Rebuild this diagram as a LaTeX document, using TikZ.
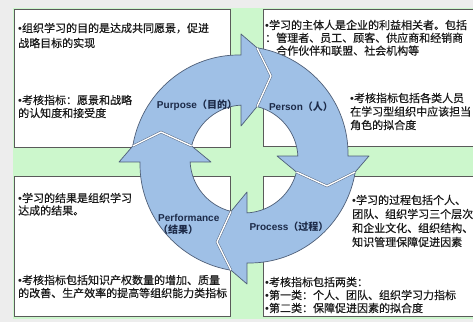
\documentclass[tikz,border=0pt]{standalone}
\usepackage{fontspec}
\setmainfont{Noto Sans CJK SC}
\newfontfamily\bodyfont{Noto Sans CJK SC}[FakeBold=0.5]
\newfontfamily\labfont{Liberation Sans}
\usetikzlibrary{calc}
\definecolor{bggray}{HTML}{EDEDED}
\definecolor{grn}{HTML}{CCF7CC}
\definecolor{arrfill}{HTML}{9FC0E6}
\definecolor{arrline}{HTML}{4F5F78}
\definecolor{boxline}{HTML}{5A5A5A}
\definecolor{txt}{HTML}{1A1A1A}
\definecolor{labc}{HTML}{1C2A48}
\tikzset{
  panel/.style={draw=boxline, line width=1.2pt, fill=white, anchor=south west, inner sep=0pt},
  para/.style={anchor=base west, inner sep=0pt, text=txt},
  cyclabel/.style={inner sep=0pt, font=\fontsize{10}{12}\selectfont\bfseries, text=labc, align=center},
  arrowbody/.style={fill=arrfill, draw=arrline, line width=0.7pt, line join=round},
  zigdark/.style={draw=arrline, line width=2.3pt, line join=round},
  zigwhite/.style={draw=white, line width=1.4pt, line join=round},
}
\newcommand\bul{{\labfont •}}
\newcommand\plines[2]{\parbox[t]{300pt}{\bodyfont\fontsize{11}{#1}\selectfont\raggedright #2}}
% #1 = tail axis angle (math angles, y up); arrow runs clockwise to #1-90
\newcommand\cycarrow[1]{%
  \path[arrowbody]
    plot[domain={#1-6.67}:{#1-88.35}, samples=40, variable=\t]
      ({244+(112-8*((#1-6.67)-\t)/81.68)*cos(\t)}, {163+(112-8*((#1-6.67)-\t)/81.68)*sin(\t)})
    -- ($(C)+({#1-90}:125pt)+({#1}:3pt)$)
    -- ($(C)+({#1-90}:111.2pt)+({#1-180}:13pt)$)
    -- ($(C)+({#1-90}:83pt)+({#1-180}:27pt)$)
    -- ($(C)+({#1-90}:52.4pt)+({#1-180}:13pt)$)
    -- ($(C)+({#1-90}:33pt)+({#1}:3pt)$)
    -- ($(C)+({#1-86.82}:54pt)$)
    arc[start angle={#1-86.82}, end angle={#1-13.93}, radius=54pt]
    -- ($(C)+({#1}:83pt)+({#1-90}:27pt)$)
    -- cycle;}
\newcommand\cyczig[2]{%
  \draw[#2] ($(C)+({#1}:111.2pt)+({#1-90}:13pt)$)
    -- ($(C)+({#1}:83pt)+({#1-90}:27pt)$)
    -- ($(C)+({#1}:52.4pt)+({#1-90}:13pt)$);}
\begin{document}
\begin{tikzpicture}[x=1pt,y=1pt]
\useasboundingbox (0,0) rectangle (473,322);
\fill[bggray] (0,0) rectangle (473,322);
\fill[grn] (13,3) rectangle (473,314);
% panels
\node[panel, minimum width=216pt, minimum height=138pt] (tlbox) at (14,174) {};
\node[panel, minimum width=217pt, minimum height=137pt] (trbox) at (263,175) {};
\node[panel, minimum width=216pt, minimum height=140pt] (blbox) at (14,5) {};
\node[panel, minimum width=217pt, minimum height=140pt] (brbox) at (263,5) {};
% texts
\node[para] (tl1) at (18,289.8) {\plines{15}{\bul 组织学习的目的是达成共同愿景，促进\\战略目标的实现}};
\node[para] (tl2) at (18,217.8) {\plines{13}{\bul 考核指标：愿景和战略\\的认知度和接受度}};
\node[para] (tr1) at (265,292.8) {\plines{12.8}{\bul 学习的主体人是企业的利益相关者。包括\\：管理者、员工、顾客、供应商和经销商\\、合作伙伴和联盟、社会机构等}};
\node[para] (tr2) at (350,219.8) {\plines{13.5}{\bul 考核指标包括各类人员\\在学习型组织中应该担当\\角色的拟合度}};
\node[para] (bl1) at (18,119.8) {\plines{12.5}{\bul 学习的结果是组织学习\\达成的结果。}};
\node[para] (bl2) at (18,37.8) {\plines{13}{\bul 考核指标包括知识产权数量的增加、质量\\的改善、生产效率的提高等组织能力类指标}};
\node[para] (br1) at (352,117.8) {\plines{14}{\bul 学习的过程包括个人、\\团队、组织学习三个层次\\和企业文化、组织结构、\\知识管理保障促进因素}};
\node[para] (br2) at (265,35.8) {\plines{13}{\bul 考核指标包括两类：\\\bul 第一类：个人、团队、组织学习力指标\\\bul 第二类：保障促进因素的拟合度}};
% cycle arrows
\coordinate (C) at (244,163);
\cycarrow{180}
\cycarrow{90}
\cycarrow{0}
\cycarrow{270}
\foreach \a in {180,90,0,270} {\cyczig{\a}{zigdark}}
\foreach \a in {180,90,0,270} {\cyczig{\a}{zigwhite}}
% labels
\node[cyclabel] (purpose) at (197,217) {{\labfont Purpose}（目的）};
\node[cyclabel] (person) at (301,215) {{\labfont Person}（人）};
\node[cyclabel, align=left, anchor=west] (performance) at (158,98) {{\labfont Performance}\\（结果）};
\node[cyclabel] (process) at (289,95) {{\labfont Process}（过程）};
\end{tikzpicture}
\end{document}
